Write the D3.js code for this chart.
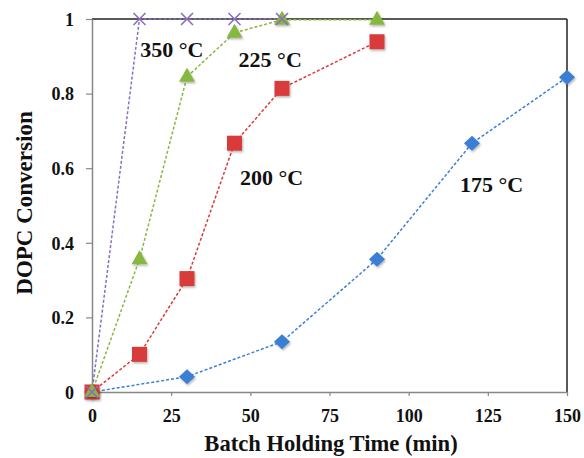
<!DOCTYPE html>
<html><head><meta charset="utf-8">
<script src="https://cdn.jsdelivr.net/npm/d3@7"></script>
<style>body{margin:0;background:#fff}svg{display:block}text{font-family:"Liberation Serif","Times New Roman",serif;font-weight:bold}</style>
</head><body>
<svg id="c" width="584" height="458"></svg>
<script>
const xTicks = [0, 25, 50, 75, 100, 125, 150];
const yTicks = [0, 0.2, 0.4, 0.6, 0.8, 1];
const yTickLabels = ["0", "0.2", "0.4", "0.6", "0.8", "1"];
const t175 = [0, 30, 60, 90, 120, 150];
const v175 = [0, 0.041, 0.135, 0.356, 0.667, 0.844];
const t200 = [0, 15, 30, 45, 60, 90];
const v200 = [0, 0.101, 0.304, 0.667, 0.814, 0.939];
const t225 = [0, 15, 30, 45, 60, 90];
const v225 = [0, 0.356, 0.845, 0.963, 0.998, 0.998];
const t350 = [0, 15, 30, 45, 60];
const v350 = [0, 1, 1, 1, 1];
const seriesNames = ["175 °C", "200 °C", "225 °C", "350 °C"];
const labelPos = [[116.2, 0.536], [46.7, 0.555], [46.3, 0.871], [15.2, 0.898]];

const svg = d3.select("#c");
const m = {l: 92, r: 17, t: 19, b: 66};
const W = 584, H = 458;
const x = d3.scaleLinear().domain([0, 150]).range([m.l, W - m.r]);
const y = d3.scaleLinear().domain([0, 1]).range([H - m.b, m.t]);

const defs = svg.append("defs");
const f = defs.append("filter").attr("id", "sh").attr("x", "-50%").attr("y", "-50%").attr("width", "200%").attr("height", "200%");
f.append("feDropShadow").attr("dx", 1).attr("dy", 1.5).attr("stdDeviation", 1).attr("flood-color", "#000").attr("flood-opacity", 0.3);

// frame top/right
svg.append("line").attr("x1", x(0)).attr("x2", x(150)).attr("y1", y(1)).attr("y2", y(1)).attr("stroke", "#222").attr("stroke-width", 1.5);
svg.append("line").attr("x1", x(150)).attr("x2", x(150)).attr("y1", y(1)).attr("y2", y(0)).attr("stroke", "#222").attr("stroke-width", 1.5);

// axes
const xa = svg.append("g").attr("transform", `translate(0,${y(0)})`)
  .call(d3.axisBottom(x).tickValues(xTicks).tickSize(4).tickSizeOuter(0).tickPadding(0).tickFormat(d3.format("d")));
const ya = svg.append("g").attr("transform", `translate(${x(0)},0)`)
  .call(d3.axisLeft(y).tickValues(yTicks).tickSize(6).tickSizeOuter(0).tickPadding(12).tickFormat((d, i) => yTickLabels[i]));
[xa, ya].forEach(g => {
  g.select(".domain").attr("stroke", "#888").attr("stroke-width", 1.5);
  g.selectAll(".tick line").attr("stroke", "#888").attr("stroke-width", 1.2);
  g.selectAll("text").attr("font-size", 18).attr("fill", "#111")
    .style("font-family", '"Liberation Serif", serif').style("font-weight", "bold");
});
xa.selectAll("text").attr("dy", null).attr("y", 30);
ya.selectAll("text").attr("dy", "0.35em");

// titles
svg.append("text").attr("x", 331).attr("y", 451).attr("text-anchor", "middle")
  .attr("font-size", 22.6).attr("fill", "#111").text("Batch Holding Time (min)");
svg.append("text").attr("transform", `translate(32,203) rotate(-90)`).attr("text-anchor", "middle")
  .attr("font-size", 23).attr("fill", "#111").text("DOPC Conversion");

const series = [
  {t: t175, v: v175, c: "#3a7fd5", mk: "diamond"},
  {t: t200, v: v200, c: "#d93a3a", mk: "square"},
  {t: t225, v: v225, c: "#86b840", mk: "triangle"},
  {t: t350, v: v350, c: "#8a6dbf", mk: "x"}
];
const line = d3.line().x(d => x(d[0])).y(d => y(d[1]));
series.forEach(s => {
  const pts = s.t.map((t, i) => [t, s.v[i]]);
  svg.append("path").datum(pts).attr("d", line).attr("fill", "none")
    .attr("stroke", s.c).attr("stroke-width", 1.5).attr("stroke-dasharray", "3,2");
});
series.forEach(s => {
  const pts = s.t.map((t, i) => [t, s.v[i]]);
  const g = svg.append("g");
  pts.forEach(p => {
    const cx = x(p[0]), cy = y(p[1]);
    if (s.mk === "diamond") {
      g.append("path").attr("d", `M${cx},${cy - 7.5}L${cx + 8},${cy}L${cx},${cy + 7.5}L${cx - 8},${cy}Z`)
        .attr("fill", s.c).attr("filter", "url(#sh)");
    } else if (s.mk === "square") {
      g.append("rect").attr("x", cx - 7.5).attr("y", cy - 7.5).attr("width", 15).attr("height", 15)
        .attr("fill", s.c).attr("filter", "url(#sh)");
    } else if (s.mk === "triangle") {
      g.append("path").attr("d", `M${cx},${cy - 9}L${cx + 8},${cy + 5}L${cx - 8},${cy + 5}Z`)
        .attr("fill", s.c).attr("filter", "url(#sh)");
    } else {
      g.append("path").attr("d", `M${cx - 6},${cy - 6}L${cx + 6},${cy + 6}M${cx + 6},${cy - 6}L${cx - 6},${cy + 6}`)
        .attr("stroke", s.c).attr("stroke-width", 1.6);
    }
  });
});

// series labels
seriesNames.forEach((n, i) => {
  svg.append("text").attr("x", x(labelPos[i][0])).attr("y", y(labelPos[i][1]))
    .attr("font-size", 22).attr("fill", "#111").text(n);
});
</script>
</body></html>
